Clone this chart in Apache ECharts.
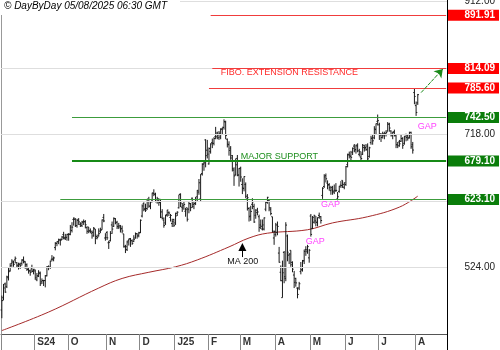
<!DOCTYPE html>
<html>
<head>
<meta charset="utf-8">
<script src="https://cdn.jsdelivr.net/npm/echarts@6/dist/echarts.min.js"></script>
<style>
  html, body { margin: 0; padding: 0; background: #fff; }
  #chart { width: 500px; height: 350px; }
</style>
</head>
<body>
<div id="chart"></div>
<script>
// Daily bars: [date, open, high, low, close]
const aug24 = [
  ['2024-08-05',462,483,450,475.7],['2024-08-06',480,500,476,494.1],['2024-08-07',500,502,487,488.1],
  ['2024-08-08',496,512,494,510.3],['2024-08-09',509,524,505,517.8],['2024-08-12',519,530,518,526.6],
  ['2024-08-13',530,536,525,533.3],['2024-08-14',531,534,525,528.5],['2024-08-15',535,540,530,537.3],
  ['2024-08-16',531,532,524,527.4],['2024-08-19',526,531,521,529.3],['2024-08-20',528,531,522,526.7],
  ['2024-08-21',530,536,527,535.1],['2024-08-22',534,540,530,531.9],['2024-08-23',533,533,522,528.0],
  ['2024-08-26',528,530,519,521.1],['2024-08-27',522,523,515,519.1],['2024-08-28',519,521,512,516.8],
  ['2024-08-29',522,528,517,518.2],['2024-08-30',520,522,514,521.3]
];
const sep24 = [
  ['2024-09-03',519,521,506,508.9],['2024-09-04',506,516,504,512.0],['2024-09-05',511,520,510,516.9],
  ['2024-09-06',515,518,497,500.3],['2024-09-09',503,508,500,504.8],['2024-09-10',505,506,497,504.8],
  ['2024-09-11',505,513,495,511.8],['2024-09-12',512,526,511,525.0],['2024-09-13',524,527,520,524.6],
  ['2024-09-16',524,534,522,533.3],['2024-09-17',536,542,533,536.3],['2024-09-18',536,540,533,537.9],
  ['2024-09-19',553,561,549,559.1],['2024-09-20',559,562,555,561.4],['2024-09-23',562,566,558,564.4],
  ['2024-09-24',564,566,556,563.3],['2024-09-25',565,570,564,568.3],['2024-09-26',572,576,565,567.8],
  ['2024-09-27',566,573,564,567.4],['2024-09-30',568,573,563,572.4]
];
const oct24 = [
  ['2024-10-01',572,574,563,572.8],['2024-10-02',572,586,571,582.8],['2024-10-03',578,590,575,582.8],
  ['2024-10-04',594,597,585,595.9],['2024-10-07',594,596,583,584.8],['2024-10-08',585,595,582,592.9],
  ['2024-10-09',593,596,586,590.5],['2024-10-10',587,590,583,587.6],['2024-10-11',585,592,583,589.9],
  ['2024-10-14',591,594,586,590.4],['2024-10-15',591,593,581,586.3],['2024-10-16',582,584,573,576.8],
  ['2024-10-17',583,583,574,576.9],['2024-10-18',578,581,574,576.5],['2024-10-21',574,578,566,575.2],
  ['2024-10-22',570,583,569,581.1],['2024-10-23',580,580,558,566.3],['2024-10-24',569,572,565,567.8],
  ['2024-10-25',570,581,569,573.3],['2024-10-28',577,582,574,578.2],['2024-10-29',579,594,579,593.3],
  ['2024-10-30',597,602,590,591.8],['2024-10-31',567,574,563,567.6]
];
const nov24 = [
  ['2024-11-01',575,577,564,567.2],['2024-11-04',560,563,551,560.6],['2024-11-05',563,577,562,573.5],
  ['2024-11-06',586,591,573,580.0],['2024-11-07',584,597,583,595.6],['2024-11-08',595,596,587,589.3],
  ['2024-11-11',590,592,580,584.0],['2024-11-12',583,589,580,584.8],['2024-11-13',583,586,575,580.0],
  ['2024-11-14',581,585,574,577.2],['2024-11-15',573,573,553,554.1],['2024-11-18',555,557,545,554.4],
  ['2024-11-19',550,563,548,561.1],['2024-11-20',563,566,556,565.5],['2024-11-21',566,567,554,563.1],
  ['2024-11-22',563,565,557,559.1],['2024-11-25',562,571,561,565.1],['2024-11-26',567,575,566,573.5],
  ['2024-11-27',573,574,566,569.8],['2024-11-29',571,576,568,574.3]
];
const dec24 = [
  ['2024-12-02',575,594,574,592.8],['2024-12-03',599,616,597,613.7],['2024-12-04',617,619,606,608.3],
  ['2024-12-05',610,617,605,607.5],['2024-12-06',610,624,608,623.8],['2024-12-09',623,627,611,613.6],
  ['2024-12-10',613,620,609,619.3],['2024-12-11',621,633,619,632.7],['2024-12-12',632,638,628,630.8],
  ['2024-12-13',631,633,619,620.4],['2024-12-16',620,627,617,624.2],['2024-12-17',621,625,614,618.6],
  ['2024-12-18',619,624,596,597.2],['2024-12-19',605,609,594,595.6],['2024-12-20',593,597,582,585.3],
  ['2024-12-23',589,601,586,599.9],['2024-12-24',601,608,598,607.8],['2024-12-26',604,606,599,603.4],
  ['2024-12-27',597,602,591,599.8],['2024-12-30',588,595,583,591.2],['2024-12-31',594,595,583,585.5]
];
const jan25 = [
  ['2025-01-02',589,604,586,599.2],['2025-01-03',603,606,599,604.6],['2025-01-06',611,630,610,630.2],
  ['2025-01-07',631,632,612,617.9],['2025-01-08',612,618,605,610.7],['2025-01-10',614,621,608,615.9],
  ['2025-01-13',606,611,598,608.3],['2025-01-14',611,611,591,594.3],['2025-01-15',609,620,603,617.1],
  ['2025-01-16',617,618,606,611.3],['2025-01-17',625,626,611,612.8],['2025-01-21',616,620,609,617.1],
  ['2025-01-22',617,627,615,623.5],['2025-01-23',627,637,621,636.5],['2025-01-24',634,653,630,647.5],
  ['2025-01-27',624,660,621,659.9],['2025-01-28',661,676,658,674.3],['2025-01-29',675,678,665,676.5],
  ['2025-01-30',710,711,670,687.0],['2025-01-31',695,710,683,689.2]
];
const feb25 = [
  ['2025-02-03',675,699,674,697.5],['2025-02-04',693,705,690,704.2],['2025-02-05',706,712,698,704.9],
  ['2025-02-06',705,714,702,711.9],['2025-02-07',715,729,711,714.5],['2025-02-10',720,722,711,717.4],
  ['2025-02-11',713,723,710,719.8],['2025-02-12',714,727,711,725.4],['2025-02-13',726,728,718,728.6],
  ['2025-02-14',728,740,725,736.7],['2025-02-18',736,738,711,716.4],['2025-02-19',711,712,699,703.8],
  ['2025-02-20',703,708,687,694.8],['2025-02-21',698,701,681,683.6],['2025-02-24',687,688,664,668.1],
  ['2025-02-25',666,670,643,657.5],['2025-02-26',659,683,658,673.7],['2025-02-27',683,688,657,658.2],
  ['2025-02-28',659,669,642,668.2]
];
const mar25 = [
  ['2025-03-03',669,671,649,655.9],['2025-03-04',645,654,631,640.0],['2025-03-05',639,657,635,656.5],
  ['2025-03-06',645,648,625,627.9],['2025-03-07',624,631,607,625.7],['2025-03-10',610,612,591,598.0],
  ['2025-03-11',599,614,592,605.7],['2025-03-12',616,625,609,619.6],['2025-03-13',613,617,589,590.3],
  ['2025-03-14',600,609,595,607.6],['2025-03-17',604,611,600,604.9],['2025-03-18',598,601,576,582.4],
  ['2025-03-19',586,594,580,584.1],['2025-03-20',580,594,578,586.0],['2025-03-21',580,597,578,596.3],
  ['2025-03-24',609,620,606,618.9],['2025-03-25',620,627,617,626.3],['2025-03-26',622,623,606,611.0],
  ['2025-03-27',609,612,600,602.6],['2025-03-28',598,598,575,576.7],['2025-03-31',567,578,557,576.4]
];
const apr25 = [
  ['2025-04-01',572,589,569,586.0],['2025-04-02',575,591,571,583.9],['2025-04-03',545,554,531,531.6],
  ['2025-04-04',517,527,504,504.7],['2025-04-07',480,534,480,516.3],['2025-04-08',546,548,501,510.5],
  ['2025-04-09',508,590,504,585.8],['2025-04-10',570,572,533,546.3],['2025-04-11',542,545,529,543.6],
  ['2025-04-14',549,549,525,531.5],['2025-04-15',528,533,517,521.5],['2025-04-16',513,519,494,502.3],
  ['2025-04-17',508,509,496,501.5],['2025-04-21',494,495,479,484.7],['2025-04-22',494,503,491,500.3],
  ['2025-04-23',518,532,514,520.3],['2025-04-24',521,535,518,533.2],['2025-04-25',534,550,529,547.3],
  ['2025-04-28',550,555,541,549.7],['2025-04-29',547,557,544,554.4],['2025-04-30',538,551,531,549.0]
];
const may25 = [
  ['2025-05-01',599,602,569,572.2],['2025-05-02',581,599,580,597.0],['2025-05-05',590,601,588,599.3],
  ['2025-05-06',592,599,584,589.8],['2025-05-07',590,597,584,596.8],['2025-05-08',600,604,595,598.0],
  ['2025-05-09',598,599,588,592.5],['2025-05-12',629,641,624,639.4],['2025-05-13',642,660,640,656.0],
  ['2025-05-14',658,661,648,653.3],['2025-05-15',647,651,638,643.9],['2025-05-16',645,647,636,640.3],
  ['2025-05-19',636,643,630,640.3],['2025-05-20',637,643,630,635.5],['2025-05-21',634,645,631,636.6],
  ['2025-05-22',636,647,634,636.4],['2025-05-23',624,634,622,627.1],['2025-05-27',635,643,633,642.3],
  ['2025-05-28',644,650,640,643.6],['2025-05-29',651,651,640,645.1],['2025-05-30',641,648,638,647.5]
];
const jun25 = [
  ['2025-06-02',645,672,643,670.9],['2025-06-03',674,690,670,688.0],['2025-06-04',689,693,683,687.6],
  ['2025-06-05',686,694,680,684.6],['2025-06-06',692,699,688,697.7],['2025-06-09',701,704,692,694.1],
  ['2025-06-10',696,703,690,702.4],['2025-06-11',701,705,692,694.1],['2025-06-12',689,697,686,693.0],
  ['2025-06-13',685,693,679,682.9],['2025-06-16',689,704,688,702.1],['2025-06-17',699,703,693,697.2],
  ['2025-06-18',699,704,694,695.8],['2025-06-20',701,705,680,682.4],['2025-06-23',686,700,684,698.5],
  ['2025-06-24',706,716,703,712.2],['2025-06-25',713,718,703,708.7],['2025-06-26',713,730,711,726.1],
  ['2025-06-27',725,734,718,733.6],['2025-06-30',737,747,731,738.1]
];
const jul25 = [
  ['2025-07-01',732,735,710,719.2],['2025-07-02',717,720,707,713.6],['2025-07-03',717,722,712,719.0],
  ['2025-07-07',716,722,711,718.4],['2025-07-08',719,724,715,720.9],['2025-07-09',723,736,722,733.0],
  ['2025-07-10',733,735,722,727.3],['2025-07-11',723,724,715,717.5],['2025-07-14',716,722,711,720.9],
  ['2025-07-15',722,725,715,717.0],['2025-07-16',716,717,698,702.9],['2025-07-17',703,707,698,701.4],
  ['2025-07-18',707,710,700,704.3],['2025-07-21',708,718,707,712.0],['2025-07-22',712,714,697,702.1],
  ['2025-07-23',705,716,703,714.8],['2025-07-24',718,719,708,713.6],['2025-07-25',716,718,709,712.7],
  ['2025-07-28',713,722,712,717.6],['2025-07-29',721,722,697,700.0],['2025-07-30',703,707,690,695.2],
  ['2025-07-31',779,785,762,773.4]
];
const aug25 = [
  ['2025-08-01',760,766,745,750.0],['2025-08-04',764,777,761,776.0]
];

// Empty sessions kept on the right of the time axis
const futureDays = [
  '2025-08-05','2025-08-06','2025-08-07','2025-08-08','2025-08-11','2025-08-12','2025-08-13',
  '2025-08-14','2025-08-15','2025-08-18','2025-08-19','2025-08-20','2025-08-21','2025-08-22',
  '2025-08-25','2025-08-26','2025-08-27'
];

// 200-day moving average, read at selected sessions
const ma200 = [
  ['2024-08-05',432],['2024-09-13',459],['2024-10-25',494],['2024-11-14',508],['2024-12-09',517],
  ['2025-01-02',525],['2025-01-23',535],['2025-02-20',554],['2025-03-10',567],['2025-03-25',574],
  ['2025-04-29',579],['2025-05-20',589],['2025-06-20',598],['2025-07-18',612],['2025-08-04',628]
];

// Month tick labels along the time axis
const monthLabels = ['S24','O','N','D','J25','F','M','A','M','J','J','A'];

// Price levels drawn from a start session to the right edge
const levelValues = [891.91, 814.09, 785.60, 742.50, 679.10, 623.10];
const levelKinds  = ['res','res','res','sup','major','sup'];
const levelStarts = ['2025-02-04','2025-02-05','2025-02-03','2024-10-03','2024-10-03','2024-09-24'];

// Horizontal grid values and the ones that carry a plain label
const gridValues = [524, 621, 718, 815, 912];
const gridLabelValues = [912, 718, 524];

// Text notes: [text, session, price]
const fiboNote = ['FIBO. EXTENSION RESISTANCE', '2025-02-12', 808.6];
const supportNote = ['MAJOR SUPPORT', '2025-03-03', 685.4];
const gapNotes = [['GAP','2025-08-04',729.3],['GAP','2025-05-09',615.2],['GAP','2025-04-28',561.9]];
const maNote = ['MA 200', '2025-02-19', 532.6];
// Arrows: [from session, from price, to session, to price]
const maArrow = ['2025-03-04', 539.2, '2025-03-04', 553.8];
const targetArrow = ['2025-08-06', 779, '2025-08-25', 813.3];

// ---------------------------------------------------------------------------
const FONT = '"Liberation Sans", Arial, Helvetica, sans-serif';
const bars = [].concat(aug24, sep24, oct24, nov24, dec24, jan25, feb25, mar25, apr25, may25, jun25, jul25, aug25);
const dates = bars.map(r => r[0]);
const categories = dates.concat(futureDays);
const idx = d => categories.indexOf(d);
const ohlc = bars.map((r, i) => [i, r[1], r[2], r[3], r[4]]);

// first session of each month gets a tick and a label
const tickLabelMap = {};
let m = 0;
for (let i = 1; i < dates.length; i++) {
  if (dates[i].slice(5, 7) !== dates[i - 1].slice(5, 7)) tickLabelMap[i] = monthLabels[m++];
}

const RED = '#ff0000', GREEN = '#0a7d0a';
const lineColor = { res: '#f03c3c', sup: '#3c9c3c', major: '#168a16' };
const lastIdx = categories.length - 1;

function renderOHLC(params, api) {
  const i = api.value(0);
  const pO = api.coord([i, api.value(1)]);
  const pH = api.coord([i, api.value(2)]);
  const pL = api.coord([i, api.value(3)]);
  const pC = api.coord([i, api.value(4)]);
  const x = pH[0];
  const st = { stroke: '#1a1a1a', lineWidth: 1 };
  return {
    type: 'group',
    children: [
      { type: 'line', shape: { x1: x, y1: pH[1], x2: x, y2: pL[1] }, style: st },
      { type: 'line', shape: { x1: x - 1.2, y1: pO[1], x2: x, y2: pO[1] }, style: st },
      { type: 'line', shape: { x1: x, y1: pC[1], x2: x + 1.2, y2: pC[1] }, style: st }
    ]
  };
}

function noteLabel(note, color) {
  return {
    coord: [idx(note[1]), note[2]],
    symbol: 'circle', symbolSize: 0,
    label: {
      show: true, position: 'right', distance: 0, formatter: note[0],
      color: color, fontSize: 9, fontFamily: FONT
    }
  };
}

const chart = echarts.init(document.getElementById('chart'), null, { renderer: 'canvas' });
chart.setOption({
  animation: false,
  backgroundColor: '#ffffff',
  textStyle: { fontFamily: FONT },
  grid: { left: 1, right: 53, top: 0, bottom: 16, containLabel: false, outerBoundsMode: 'none' },
  xAxis: {
    type: 'category',
    data: categories,
    boundaryGap: true,
    axisLine: { show: true, lineStyle: { color: '#555', width: 1 } },
    axisTick: {
      show: true, length: 16,
      interval: i => i === 0 || tickLabelMap[i] !== undefined,
      lineStyle: { color: '#888', width: 1 }
    },
    axisLabel: {
      interval: i => tickLabelMap[i] !== undefined,
      formatter: (v, i) => tickLabelMap[i] || '',
      align: 'left', margin: 3, padding: [0, 0, 0, 2],
      fontSize: 10, fontWeight: 'bold', color: '#333', fontFamily: FONT
    },
    splitLine: { show: false }
  },
  yAxis: [
    {
      type: 'value', position: 'right', min: 427, max: 914, interval: 97,
      axisLine: { show: true, lineStyle: { color: '#000', width: 1 } },
      axisTick: { show: false },
      splitLine: { show: false },
      axisLabel: {
        margin: 1,
        customValues: gridLabelValues.concat(levelValues),
        formatter: v => {
          const k = levelValues.indexOf(v);
          const t = v.toFixed(2);
          if (k < 0) return '{g|' + t + '}';
          return (levelKinds[k] === 'res' ? '{r|' : '{s|') + t + '}';
        },
        rich: {
          g: { color: '#222', fontSize: 10, width: 47, align: 'right', padding: [0, 4, 0, 0], fontFamily: FONT },
          r: { color: '#fff', backgroundColor: RED, fontWeight: 'bold', fontSize: 10, width: 47, height: 11,
               lineHeight: 11, align: 'right', padding: [0, 4, 0, 0], fontFamily: FONT },
          s: { color: '#fff', backgroundColor: GREEN, fontWeight: 'bold', fontSize: 10, width: 47, height: 11,
               lineHeight: 11, align: 'right', padding: [0, 4, 0, 0], fontFamily: FONT }
        }
      }
    },
    {
      type: 'value', position: 'left', min: 427, max: 914,
      axisLine: { show: true, lineStyle: { color: '#999', width: 1 } },
      axisTick: { show: false }, axisLabel: { show: false }, splitLine: { show: false }
    }
  ],
  series: [
    {
      name: 'grid', type: 'line', data: [], z: 1, silent: true,
      markLine: {
        silent: true, symbol: ['none', 'none'], label: { show: false },
        lineStyle: { color: '#dedede', width: 1, type: 'solid' },
        data: gridValues.map(v => ({ yAxis: v }))
      }
    },
    {
      name: 'levels', type: 'line', data: [], z: 2, silent: true,
      markLine: {
        silent: true, symbol: ['none', 'none'], label: { show: false },
        data: levelValues.map((v, k) => [
          { coord: [idx(levelStarts[k]), v],
            lineStyle: { color: lineColor[levelKinds[k]], width: levelKinds[k] === 'major' ? 2 : 1, type: 'solid' } },
          { coord: [lastIdx, v] }
        ])
      }
    },
    {
      name: 'MA 200', type: 'line', z: 3, silent: true,
      data: ma200.map(p => [idx(p[0]), p[1]]),
      smooth: 0.4, showSymbol: false,
      lineStyle: { color: '#a52a2a', width: 1 }
    },
    {
      name: 'price', type: 'custom', z: 4, silent: true,
      renderItem: renderOHLC,
      encode: { x: 0, y: [1, 2, 3, 4] },
      data: ohlc
    },
    {
      name: 'notes', type: 'line', data: [], z: 5, silent: true,
      markPoint: {
        silent: true,
        data: [
          noteLabel(fiboNote, '#ff2a2a'),
          noteLabel(supportNote, '#1f8f1f'),
          noteLabel(maNote, '#111')
        ].concat(gapNotes.map(g => noteLabel(g, '#ff44ff')))
      },
      markLine: {
        silent: true, label: { show: false },
        data: [
          [
            { coord: [idx(maArrow[0]), maArrow[1]], symbol: 'none',
              lineStyle: { color: '#000', width: 1, type: 'solid' } },
            { coord: [idx(maArrow[2]), maArrow[3]], symbol: 'triangle', symbolSize: 8 }
          ],
          [
            { coord: [idx(targetArrow[0]), targetArrow[1]], symbol: 'none',
              lineStyle: { color: '#1a8a1a', width: 1, type: [4, 1] } },
            { coord: [idx(targetArrow[2]), targetArrow[3]], symbol: 'arrow', symbolSize: 8 }
          ]
        ]
      }
    }
  ],
  graphic: [
    { type: 'rect', left: 0, top: 0, shape: { width: 180, height: 15 }, style: { fill: '#fff' }, z: 100 },
    { type: 'text', left: 4, top: 1, z: 101,
      style: { text: '\u00a9 DayByDay 05/08/2025 06:30 GMT', font: 'italic 10px ' + FONT, fill: '#000' } },
    { type: 'line', z: 100, shape: { x1: 447.5, y1: 334, x2: 447.5, y2: 350 }, style: { stroke: '#000', lineWidth: 1 } }
  ]
});
</script>
</body>
</html>
